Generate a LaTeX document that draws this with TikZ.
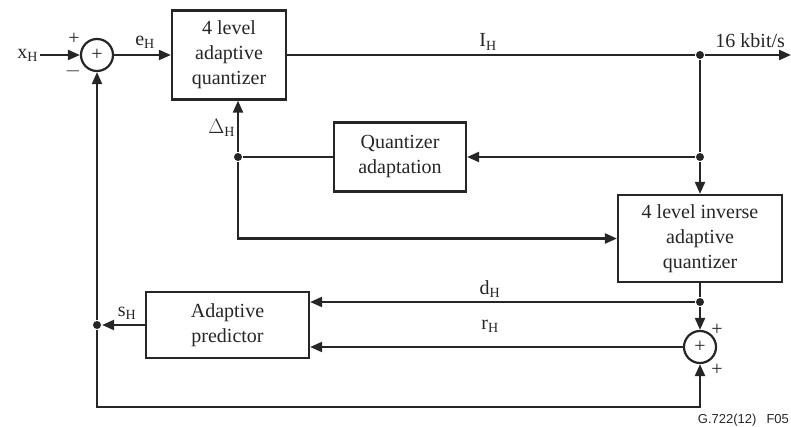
\documentclass[tikz,border=0pt]{standalone}
\usepackage{fontspec}
\setmainfont{Liberation Serif}
\newfontfamily\figsans{Liberation Sans}
\usetikzlibrary{arrows.meta}

\begin{document}
\begin{tikzpicture}[x=1pt, y=-1pt, line width=2.2pt, color=black!85,
    >={Triangle[length=12pt, width=10pt]},
    block/.style={draw, align=center, inner sep=0pt,
      font=\fontsize{20}{25}\selectfont},
    summer/.style={draw, circle, minimum size=32pt, inner sep=0pt,
      font=\fontsize{20}{24}\selectfont},
    junction/.style={circle, fill, minimum size=8pt, inner sep=0pt},
    lbl/.style={inner sep=1pt, font=\fontsize{20}{24}\selectfont}]
    \useasboundingbox (0,0) rectangle (791,427);
    % blocks
    \node[summer] (sum1) at (97,55) {+};
    \node[summer] (sum2) at (700,347) {+};
    \node[block, minimum width=114pt, minimum height=89pt] (quant) at (229,55)
      {4 level\\adaptive\\quantizer};
    \node[block, minimum width=132pt, minimum height=69pt] (qadapt) at (400,157)
      {Quantizer\\adaptation};
    \node[block, minimum width=164pt, minimum height=87pt] (invq) at (700,238.5)
      {4 level inverse\\adaptive\\quantizer};
    \node[block, minimum width=163pt, minimum height=66pt] (pred) at (227.5,325)
      {Adaptive\\predictor};
    % junctions and free ends
    \node[junction] (jtop) at (700,55) {};
    \node[junction] (jadapt) at (700,157) {};
    \node[junction] (jdelta) at (238,157) {};
    \node[junction] (jd) at (700,302) {};
    \node[junction] (js) at (97,325) {};
    \coordinate (out) at (791,55);
    \coordinate (cornerL) at (97,407);
    \node[lbl, anchor=east] (xin) at (40,55) {x\textsubscript{H}};
    % connectors
    \draw[->] (xin) -- (sum1.west);
    \draw[->] (sum1.east) -- (quant.west);
    \draw (quant.east) -- (jtop);
    \draw[->] (jtop) -- (out);
    \draw (jtop) -- (jadapt);
    \draw[->] (jadapt) -- (invq.north);
    \draw[->] (jadapt) -- (qadapt.east);
    \draw (qadapt.west) -- (jdelta);
    \draw[->] (jdelta) -- (jdelta |- quant.south);
    \draw[->] (jdelta) |- (invq.west);
    \draw (invq.south) -- (jd);
    \draw[->] (jd) -- (sum2.north);
    \draw[->] (jd) -- (jd -| pred.east);
    \draw[->] (sum2.west) -- (sum2 -| pred.east);
    \draw[->] (pred.west) -- (js);
    \draw[->] (js) -- (sum1.south);
    \draw[->] (js) -- (cornerL) -| (sum2.south);
    % signs and labels
    \node[lbl] at (74,39) {+};
    \node[lbl] at (73,71) {$-$};
    \node[lbl] at (717,330) {+};
    \node[lbl] at (717,370) {+};
    \node[lbl] at (145,42) {e\textsubscript{H}};
    \node[lbl] at (488,42) {I\textsubscript{H}};
    \node[lbl, anchor=east] at (787,41) {16 kbit/s};
    \node[lbl, anchor=east] at (237,128) {$\Delta$\textsubscript{H}};
    \node[lbl] at (490,289) {d\textsubscript{H}};
    \node[lbl] at (490,326) {r\textsubscript{H}};
    \node[lbl] at (127,313) {s\textsubscript{H}};
    \node[anchor=east, inner sep=1pt, font=\figsans\fontsize{13}{15}\selectfont]
      at (791,420) {G.722(12)\hspace{10pt}F05};
\end{tikzpicture}
\end{document}
